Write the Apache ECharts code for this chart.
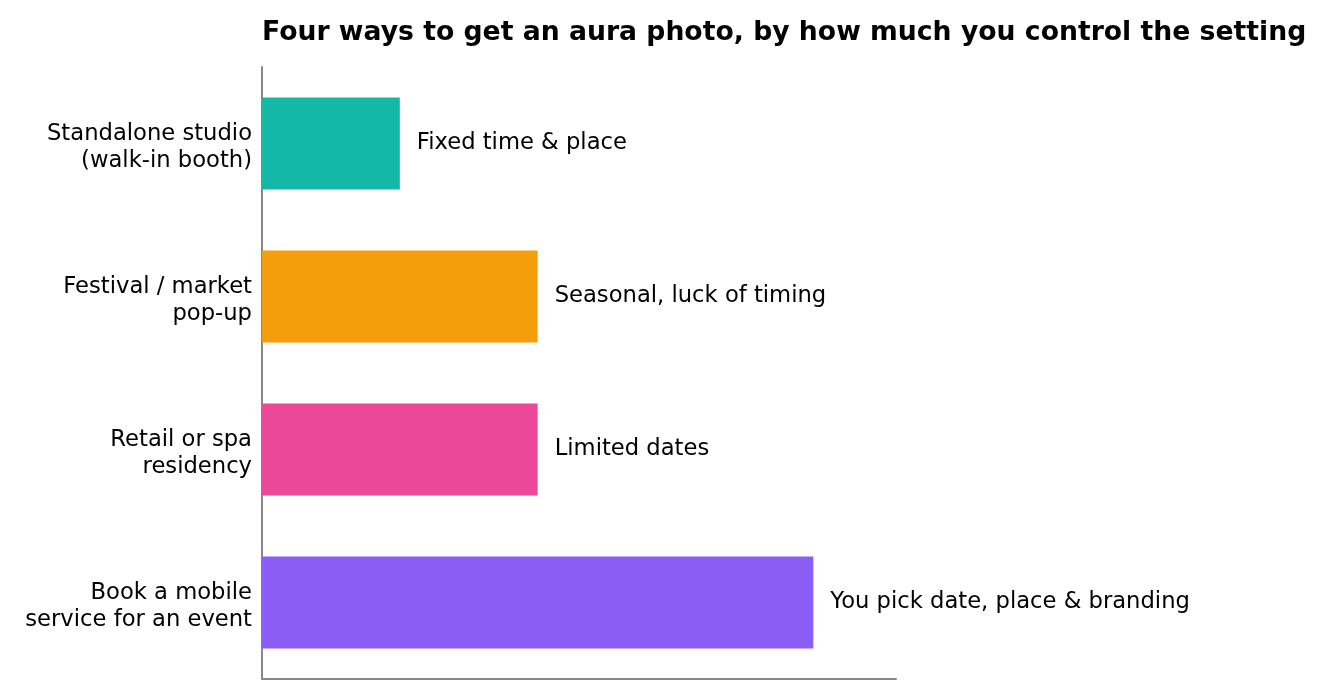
<!DOCTYPE html>
<html>
<head>
<meta charset="utf-8">
<script src="https://cdn.jsdelivr.net/npm/echarts@6/dist/echarts.min.js"></script>
<style>html,body{margin:0;padding:0;background:#fff}#c{width:1325px;height:699px}</style>
</head>
<body>
<div id="c"></div>
<script>
const categories = ["Standalone studio\n(walk-in booth)", "Festival / market\npop-up", "Retail or spa\nresidency", "Book a mobile\nservice for an event"];
const values = [1, 2, 2, 4];
const barLabels = ["Fixed time & place", "Seasonal, luck of timing", "Limited dates", "You pick date, place & branding"];
const colors = ["#14b8a6", "#f59e0b", "#ec4899", "#8b5cf6"];

const chart = echarts.init(document.getElementById('c'), null, {renderer: 'canvas'});
chart.setOption({
  animation: false,
  backgroundColor: '#ffffff',
  textStyle: {fontFamily: 'DejaVu Sans'},
  title: {
    text: 'Four ways to get an aura photo, by how much you control the setting',
    left: 262, top: 20, padding: 0,
    textStyle: {fontFamily: 'DejaVu Sans', fontSize: 26.67, fontWeight: 'bold', color: '#000000'}
  },
  grid: {left: 262, right: 429, top: 67, bottom: 20, containLabel: false},
  xAxis: {
    type: 'value', min: 0, max: 4.6,
    axisLine: {show: true, lineStyle: {color: '#888888', width: 2}},
    axisTick: {show: false}, axisLabel: {show: false}, splitLine: {show: false}
  },
  yAxis: {
    type: 'category', data: categories, inverse: true,
    axisLine: {show: true, lineStyle: {color: '#888888', width: 2}},
    axisTick: {show: false},
    axisLabel: {
      fontSize: 22.67, color: '#000000', margin: 10, fontFamily: 'DejaVu Sans',
      formatter: v => '{e| }\n' + v.split('\n').map(s => '{b|' + s + '}').join('\n'),
      rich: {
        e: {fontSize: 1, lineHeight: 8},
        b: {fontSize: 22.67, color: '#000000', fontFamily: 'DejaVu Sans', lineHeight: 27}
      }
    }
  },
  series: [{
    type: 'bar',
    barCategoryGap: '40%',
    data: values.map((v, i) => ({value: v, itemStyle: {color: colors[i]}})),
    label: {
      show: true, position: 'right', distance: 17,
      fontSize: 22.67, color: '#000000', fontFamily: 'DejaVu Sans',
      formatter: p => barLabels[p.dataIndex]
    }
  }]
});
</script>
</body>
</html>
